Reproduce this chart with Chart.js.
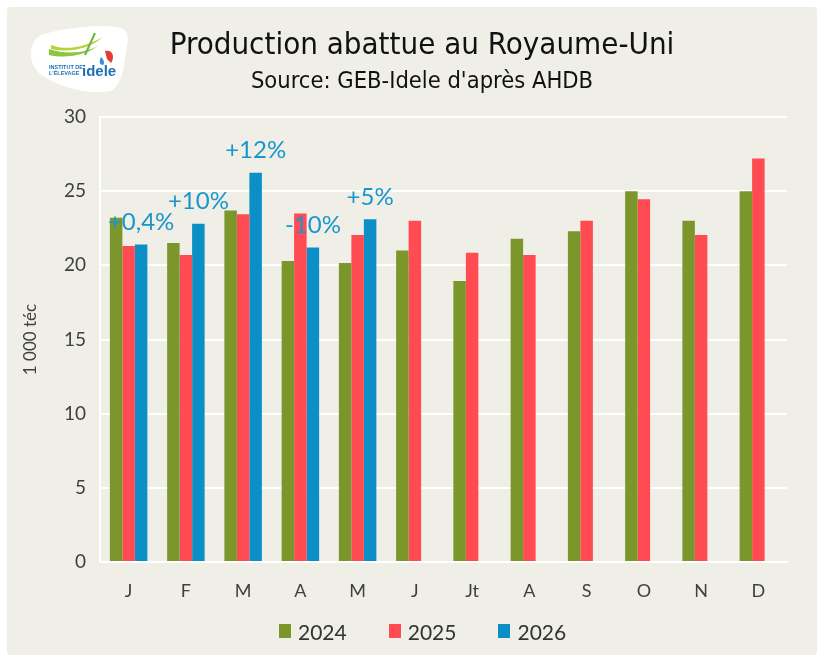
<!DOCTYPE html>
<html lang="fr">
<head>
<meta charset="utf-8">
<title>Production abattue au Royaume-Uni</title>
<script src="https://cdn.jsdelivr.net/npm/chart.js@4.4.1/dist/chart.umd.min.js"></script>
<style>
  html, body { margin: 0; padding: 0; background: #ffffff; }
  #card {
    position: absolute; left: 7px; top: 7px; width: 810px; height: 648px;
    background: #efefe7; border-radius: 4px; overflow: hidden;
  }
  #logo { position: absolute; left: 20px; top: 18px; width: 102px; height: 68px; }
  #titre {
    position: absolute; left: 0; top: 18px; width: 830px; text-align: center;
    font-family: "Liberation Sans Narrow", "DejaVu Sans Condensed", "Roboto", sans-serif;
    font-size: 31px; color: #111;
  }
  #source {
    position: absolute; left: 0; top: 59px; width: 830px; text-align: center;
    font-family: "Liberation Sans Narrow", "DejaVu Sans Condensed", "Roboto", sans-serif;
    font-size: 23.5px; color: #111;
  }
  #chartBox { position: absolute; left: 0; top: 0; width: 810px; height: 648px; }
  #legende {
    position: absolute; left: 272px; top: 611px; height: 26px;
    display: flex; align-items: center;
    font-family: Lato, "Noto Sans", sans-serif; font-size: 21px; color: #333;
  }
  #legende .item { display: flex; align-items: center; margin-right: 42px; }
  #legende .boite { width: 12px; height: 14px; margin-right: 7px; }
</style>
</head>
<body>
<div id="card">
  <div id="chartBox"><canvas id="productionChart"></canvas></div>
  <svg id="logo" viewBox="0 0 102 68">
    <path d="M14 10 C40 2 80 -2 96 4 C104 8 100 20 98 34 C96 50 92 62 84 66 C60 70 30 62 12 48 C0 38 2 16 14 10 Z" fill="#ffffff"/>
    <path d="M22 24 C40 30 60 28 72 20 C60 30 40 34 22 30 Z" fill="#8cc63f"/>
    <path d="M24 20 C40 26 58 22 76 12 C62 24 42 28 24 24 Z" fill="#b5d334"/>
    <path d="M68 8 L58 30" stroke="#6db33f" stroke-width="2"/>
    <path d="M78 26 C86 24 88 32 84 38 L80 34 Z" fill="#e63a3a"/>
    <path d="M74 32 C72 36 72 40 76 40 C78 38 77 35 74 32 Z" fill="#3a8fd0"/>
    <text x="22" y="44" font-family="Liberation Sans" font-size="5.5" font-weight="bold" fill="#1d6fb8">INSTITUT DE</text>
    <text x="22" y="50" font-family="Liberation Sans" font-size="5.5" font-weight="bold" fill="#1d6fb8">L'ÉLEVAGE</text>
    <text x="55" y="51" font-family="Liberation Sans" font-size="15" font-weight="bold" fill="#1d6fb8">idele</text>
  </svg>
  <div id="titre">Production abattue au Royaume-Uni</div>
  <div id="source">Source: GEB-Idele d'après AHDB</div>
  <div id="legende"></div>
</div>

<script>
const mois = ["J", "F", "M", "A", "M", "J", "Jt", "A", "S", "O", "N", "D"];
const prod2024 = [23.2, 21.5, 23.7, 20.3, 20.15, 21.0, 18.95, 21.8, 22.3, 25.0, 23.0, 25.0];
const prod2025 = [21.3, 20.7, 23.45, 23.5, 22.05, 23.0, 20.85, 20.7, 23.0, 24.45, 22.05, 27.2];
const prod2026 = [21.4, 22.8, 26.25, 21.2, 23.1, null, null, null, null, null, null, null];
const evolution2026 = ["+0,4%", "+10%", "+12%", "-10%", "+5%"];
const ticksY = [0, 5, 10, 15, 20, 25, 30];

const couleurs = { a2024: "#7b972c", a2025: "#ff4b51", a2026: "#0b8fc6" };
const police = "Lato, 'Noto Sans', sans-serif";

// etiquettes d'evolution au-dessus des barres 2026
const etiquettesEvolution = {
  id: "etiquettesEvolution",
  afterDatasetsDraw(chart) {
    const ctx = chart.ctx;
    const meta = chart.getDatasetMeta(2);
    const y = chart.scales.y;
    ctx.save();
    ctx.font = "24px " + police;
    ctx.fillStyle = "#1a96cc";
    ctx.textAlign = "center";
    ctx.textBaseline = "middle";
    evolution2026.forEach((txt, i) => {
      const bar = meta.data[i];
      if (!bar || prod2026[i] === null) return;
      ctx.fillText(txt, bar.x, y.getPixelForValue(prod2026[i] + 1.5));
    });
    ctx.restore();
  }
};

// legende html construite a partir des datasets
const legendeHtml = {
  id: "legendeHtml",
  afterUpdate(chart) {
    const box = document.getElementById("legende");
    if (!box) return;
    box.innerHTML = chart.data.datasets.map(ds => `
      <div class="item">
        <span class="boite" style="background:${ds.backgroundColor}"></span>
        <span>${ds.label}</span>
      </div>
    `).join("");
  }
};

const productionCtx = document.getElementById("productionChart");
new Chart(productionCtx, {
  type: "bar",
  data: {
    labels: mois,
    datasets: [
      { label: "2024", data: prod2024, backgroundColor: couleurs.a2024 },
      { label: "2025", data: prod2025, backgroundColor: couleurs.a2025 },
      { label: "2026", data: prod2026, backgroundColor: couleurs.a2026 }
    ]
  },
  options: {
    responsive: true,
    maintainAspectRatio: false,
    animation: false,
    categoryPercentage: 0.655,
    barPercentage: 1,
    layout: { padding: { left: 10, right: 30, top: 110, bottom: 53 } },
    plugins: {
      legend: { display: false },
      tooltip: { enabled: false }
    },
    scales: {
      x: {
        afterFit(scale) { scale.height = 40; },
        grid: { display: false, drawTicks: false },
        border: { color: "#ffffff", width: 2 },
        ticks: { color: "#404040", font: { family: police, size: 18 }, padding: 18 }
      },
      y: {
        min: 0,
        max: 30,
        afterBuildTicks(scale) {
          scale.ticks = ticksY.map(v => ({ value: v }));
        },
        afterFit(scale) { scale.width = 83; },
        grid: { color: "#ffffff", lineWidth: 2, drawTicks: false },
        border: { color: "#ffffff", width: 2 },
        ticks: { color: "#404040", font: { family: police, size: 19 }, padding: 14 },
        title: {
          display: true,
          text: "1 000 téc",
          color: "#404040",
          font: { family: police, size: 17 },
          padding: { top: 3, bottom: 0 }
        }
      }
    }
  },
  plugins: [etiquettesEvolution, legendeHtml]
});
</script>
</body>
</html>
